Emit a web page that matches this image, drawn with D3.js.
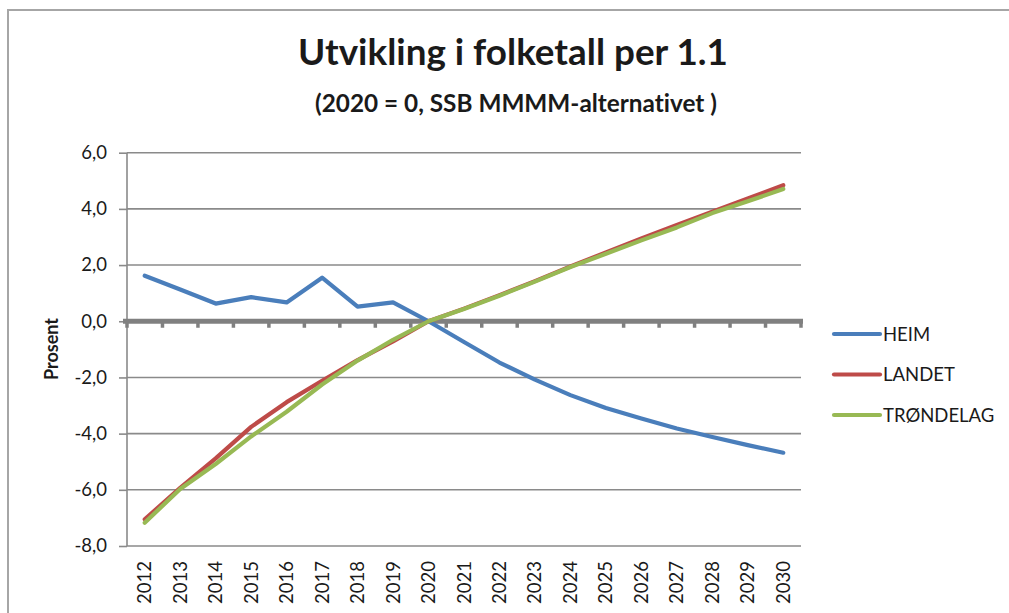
<!DOCTYPE html>
<html>
<head>
<meta charset="utf-8">
<script src="https://cdn.jsdelivr.net/npm/d3@7/dist/d3.min.js"></script>
<style>
  html, body { margin: 0; padding: 0; background: #fff; }
  svg { display: block; }
  text { font-family: Lato, "Open Sans", sans-serif; fill: #1a1a1a; font-variant-ligatures: none; font-feature-settings: "liga" 0; }
</style>
</head>
<body>
<svg id="chart" width="1009" height="613"></svg>
<script>
// ---- data ----
const years = ["2012","2013","2014","2015","2016","2017","2018","2019","2020","2021","2022","2023","2024","2025","2026","2027","2028","2029","2030"];
const heim      = [1.62, 1.13, 0.63, 0.86, 0.67, 1.55, 0.52, 0.67, 0.0, -0.74, -1.47, -2.08, -2.63, -3.09, -3.46, -3.82, -4.12, -4.41, -4.68];
const landet    = [-7.05, -5.93, -4.88, -3.76, -2.88, -2.12, -1.38, -0.72, 0.0, 0.45, 0.93, 1.43, 1.95, 2.45, 2.95, 3.43, 3.9, 4.37, 4.84];
const trondelag = [-7.17, -5.97, -5.08, -4.1, -3.22, -2.25, -1.40, -0.66, 0.0, 0.44, 0.91, 1.41, 1.93, 2.4, 2.88, 3.34, 3.85, 4.27, 4.71];
const seriesNames = ["HEIM", "LANDET", "TRØNDELAG"];
const yTicks = [6, 4, 2, 0, -2, -4, -6, -8];
const titleText = "Utvikling i folketall per 1.1";
const subtitleText = "(2020 = 0, SSB MMMM-alternativet )";
const yTitle = "Prosent";

// ---- layout ----
const svg = d3.select("#chart");
const colors = ["#4A7EBB", "#BE4B48", "#98B954"];
const seriesData = [heim, landet, trondelag];

const x = d3.scaleBand().domain(years).range([127, 801]).paddingInner(0).paddingOuter(0);
const xc = d => x(d) + x.bandwidth() / 2;
const y = d3.scaleLinear().domain([-8, 6]).range([546, 152.7]);

// outer border
svg.append("path").attr("d", "M8,613 V10 H1009")
  .attr("fill", "none").attr("stroke", "#a6a6a6").attr("stroke-width", 2);

// fit text to width helper
function fitText(sel, targetW) {
  const w = sel.node().getComputedTextLength();
  const fs = parseFloat(sel.attr("font-size"));
  sel.attr("font-size", (fs * targetW / w).toFixed(2));
}

// title
const t = svg.append("text").attr("x", 298).attr("y", 65)
  .attr("font-size", 30).attr("font-weight", "bold").text(titleText);
fitText(t, 430);
const st = svg.append("text").attr("x", 315).attr("y", 112)
  .attr("font-size", 22).attr("font-weight", "bold").text(subtitleText);
fitText(st, 402);

// gridlines
const grid = svg.append("g");
grid.selectAll("line").data(yTicks.filter(v => v !== 0)).join("line")
  .attr("x1", 127).attr("x2", 801)
  .attr("y1", d => y(d)).attr("y2", d => y(d))
  .attr("stroke", "#8a8a8a").attr("stroke-width", 1.6);

// y axis
const yAxis = d3.axisLeft(y).tickValues(yTicks).tickSize(8).tickPadding(12)
  .tickFormat(d => d3.format(".1f")(d).replace(".", ",").replace("\u2212", "-"));
const ya = svg.append("g").attr("transform", "translate(127,0)").call(yAxis);
ya.select(".domain").attr("stroke", "#8a8a8a").attr("stroke-width", 1.6).attr("d", `M0,${y(6)}V${y(-8)}`);
ya.selectAll(".tick line").attr("stroke", "#8a8a8a").attr("stroke-width", 1.6);
ya.selectAll(".tick text").attr("font-size", 18.5).attr("font-family", "Lato, sans-serif").attr("fill", "#1a1a1a");

// y title
svg.append("text").attr("transform", "translate(58,349) rotate(-90)")
  .attr("text-anchor", "middle").attr("font-size", 18).attr("font-weight", "bold").text(yTitle);

// x labels (rotated)
svg.append("g").selectAll("text").data(years).join("text")
  .attr("transform", d => `translate(${xc(d) + 6.5},604) rotate(-90)`)
  .attr("font-size", 18.5).text(d => d);

// zero axis (thick)
const zg = svg.append("g");
const bounds = years.map(d => x(d)).concat([801]);
zg.selectAll("line").data(bounds).join("line")
  .attr("x1", d => d).attr("x2", d => d)
  .attr("y1", y(0)).attr("y2", y(0) + 6.5)
  .attr("stroke", "#808080").attr("stroke-width", 3.5);
zg.append("line").attr("x1", 123).attr("x2", 803)
  .attr("y1", y(0)).attr("y2", y(0))
  .attr("stroke", "#808080").attr("stroke-width", 5);

// lines
const line = d3.line().x((d, i) => xc(years[i])).y(d => y(d));
seriesData.forEach((s, i) => {
  svg.append("path").datum(s).attr("d", line)
    .attr("fill", "none").attr("stroke", colors[i]).attr("stroke-width", 4.2)
    .attr("stroke-linejoin", "round").attr("stroke-linecap", "round");
});

// legend
const leg = svg.append("g");
seriesNames.forEach((n, i) => {
  const ly = 334 + i * 40.5;
  leg.append("line").attr("x1", 834).attr("x2", 880).attr("y1", ly).attr("y2", ly)
    .attr("stroke", colors[i]).attr("stroke-width", 4.2).attr("stroke-linecap", "round");
  leg.append("text").attr("x", 883).attr("y", ly + 6.5).attr("font-size", 18.5).text(n);
});
</script>
</body>
</html>
